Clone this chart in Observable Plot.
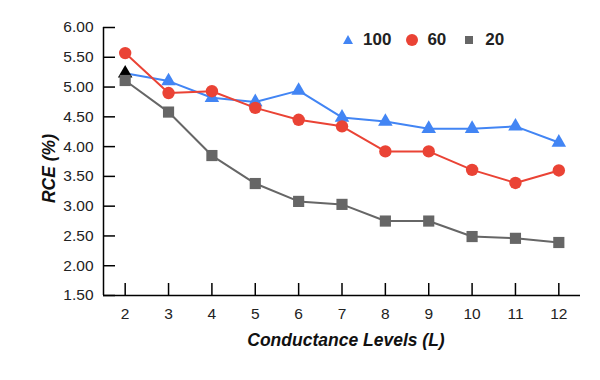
<!DOCTYPE html>
<html><head><meta charset="utf-8">
<script src="https://cdn.jsdelivr.net/npm/d3@7"></script>
<script src="https://cdn.jsdelivr.net/npm/@observablehq/plot@0.6"></script>
<style>
body{margin:0;background:#fff;font-family:"Liberation Sans",Arial,sans-serif;}
#wrap{position:relative;width:600px;height:380px;}
#legend{position:absolute;left:342px;top:31px;display:flex;align-items:center;font-weight:bold;font-size:17px;color:#222;line-height:18px;}
#legend svg{display:block;}
</style></head><body><div id="wrap"><div id="chart"></div><div id="legend"></div></div>
<script>
const levels = [2, 3, 4, 5, 6, 7, 8, 9, 10, 11, 12];
const rce100 = [5.23, 5.10, 4.82, 4.75, 4.94, 4.49, 4.42, 4.30, 4.30, 4.34, 4.07];
const rce60  = [5.57, 4.90, 4.93, 4.65, 4.45, 4.34, 3.92, 3.92, 3.61, 3.39, 3.60];
const rce20  = [5.11, 4.58, 3.85, 3.38, 3.08, 3.03, 2.75, 2.75, 2.49, 2.46, 2.39];
const yTicks = [1.5, 2.0, 2.5, 3.0, 3.5, 4.0, 4.5, 5.0, 5.5, 6.0];
const seriesNames = ["100", "60", "20"];
const xTitle = "Conductance Levels (L)";
const yTitle = "RCE (%)";

const blue = "#4285F4", red = "#EA4335", grey = "#666666";
const rows = vals => levels.map((x, i) => ({x, y: vals[i], i}));
const d100 = rows(rce100), d60 = rows(rce60), d20 = rows(rce20);

const chart = Plot.plot({
  width: 600, height: 380,
  marginLeft: 103, marginRight: 20, marginTop: 27, marginBottom: 85,
  style: {fontFamily: "Liberation Sans, Arial, sans-serif", fontSize: "15px", color: "#222", background: "white"},
  x: {domain: [1.5, 12.5]},
  y: {domain: [1.5, 6]},
  marks: [
    Plot.axisY({ticks: yTicks, tickSize: 0, tickPadding: 10, tickFormat: d => d.toFixed(2), label: null, fontSize: 15.5}),
    Plot.axisY({ticks: yTicks, tickSize: -12, text: null, label: null, stroke: "#000", strokeWidth: 1.5}),
    Plot.axisX({ticks: levels, tickSize: 0, tickPadding: 12, label: null, fontSize: 15.5}),
    Plot.axisX({ticks: levels, tickSize: -12, text: null, label: null, stroke: "#000", strokeWidth: 1.5}),
    Plot.ruleX([1.5], {stroke: "#000", strokeWidth: 1.5}),
    Plot.ruleY([1.5], {stroke: "#000", strokeWidth: 1.5}),
    Plot.line(d100, {x: "x", y: "y", stroke: blue, strokeWidth: 2}),
    Plot.dot(d100, {x: "x", y: "y", symbol: "triangle", r: 5.4, fill: d => d.i === 0 ? "#000000" : blue}),
    Plot.line(d60, {x: "x", y: "y", stroke: red, strokeWidth: 2}),
    Plot.dot(d60, {x: "x", y: "y", r: 6.2, fill: red}),
    Plot.line(d20, {x: "x", y: "y", stroke: grey, strokeWidth: 2}),
    Plot.dot(d20, {x: "x", y: "y", symbol: "square", r: 6.3, fill: grey}),
    Plot.text([xTitle], {frameAnchor: "bottom", dy: 50, dx: 4, fontSize: 17.5, fontWeight: "bold", fontStyle: "italic", fill: "#111"}),
    Plot.text([yTitle], {frameAnchor: "left", textAnchor: "middle", rotate: -90, dx: -54, dy: 7, fontSize: 17.5, fontWeight: "bold", fontStyle: "italic", fill: "#111"})
  ]
});
document.getElementById("chart").appendChild(chart);

const marks = [
  `<svg width="12" height="12"><path d="M6,1 L11,10 L1,10 Z" fill="${blue}"/></svg>`,
  `<svg width="12" height="12"><circle cx="6" cy="6" r="6" fill="${red}"/></svg>`,
  `<svg width="10" height="10"><rect x="1" y="1" width="8" height="8" fill="${grey}"/></svg>`
];
const gaps = [[9, 15], [9, 18], [11, 0]];
const leg = document.getElementById("legend");
seriesNames.forEach((name, k) => {
  const m = document.createElement("span");
  m.innerHTML = marks[k];
  m.style.marginRight = gaps[k][0] + "px";
  const t = document.createElement("span");
  t.textContent = name;
  t.style.marginRight = gaps[k][1] + "px";
  leg.appendChild(m); leg.appendChild(t);
});
</script></body></html>
